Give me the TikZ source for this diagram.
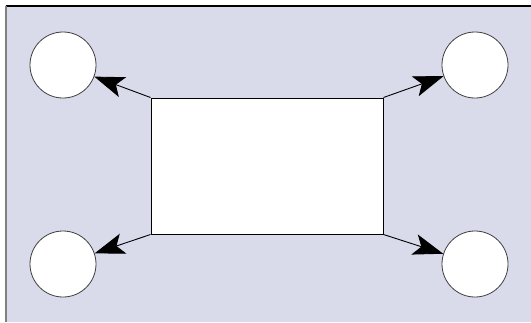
\documentclass[tikz,border=0pt]{standalone}
\usetikzlibrary{arrows.meta}
\definecolor{bgfill}{HTML}{D9DAEA}
\definecolor{circline}{HTML}{404040}
\tikzset{
  pic/.style={x=1pt,y=-1pt},
  ball/.style={circle,draw=circline,line width=0.8pt,fill=white,minimum size=66pt,inner sep=0pt},
  panel/.style={draw=black,line width=1pt,fill=white,minimum width=232pt,minimum height=136pt,inner sep=0pt},
  link/.style={line width=0.9pt,draw=black,-{Stealth[length=30pt,width=21pt,inset=7pt]}}
}
\begin{document}
\begin{tikzpicture}[pic]
\useasboundingbox (0,0) rectangle (531,322);
\fill[bgfill] (6,6) rectangle (531,322);
\draw[black,line width=1.6pt] (5.5,6) -- (531,6);
\draw[gray,line width=1.8pt] (6,6) -- (6,322);
\node[panel] (r) at (267,166) {};
\node[ball] (tl) at (63,65) {};
\node[ball] (tr) at (475,65) {};
\node[ball] (bl) at (63,264) {};
\node[ball] (br) at (475,264) {};
\draw[link] (r.north west) -- (tl);
\draw[link] (r.north east) -- (tr);
\draw[link] (r.south west) -- (bl);
\draw[link] (r.south east) -- (br);
\end{tikzpicture}
\end{document}
